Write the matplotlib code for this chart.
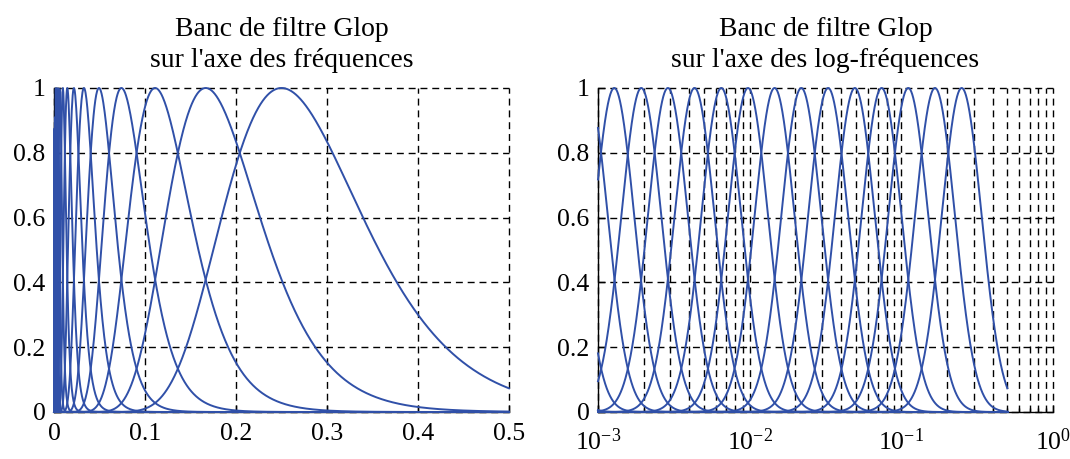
import numpy as np
import matplotlib
matplotlib.use("Agg")
import matplotlib.pyplot as plt
from matplotlib.ticker import LogLocator, NullFormatter

# ---- data ----
# centre frequencies of the Glop filters (ratio ~1.5 between neighbours)
centres = [0.25, 0.1667, 0.1111, 0.0741, 0.0494, 0.0329, 0.0219, 0.0146,
           0.00975, 0.0065, 0.00433, 0.00289, 0.00193, 0.00128, 0.000856,
           0.000571, 0.000381, 0.000254, 0.000169, 0.000113]
bandwidth = 0.303          # log-domain std of each filter (adjacent cross at ~0.8)
f_nyquist = 0.5
titles = ["Banc de filtre Glop\nsur l'axe des fréquences",
          "Banc de filtre Glop\nsur l'axe des log-fréquences"]
y_ticks = [0, 0.2, 0.4, 0.6, 0.8, 1]
y_ticklabels = ["0", "0.2", "0.4", "0.6", "0.8", "1"]
x_ticks_lin = [0, 0.1, 0.2, 0.3, 0.4, 0.5]
x_ticklabels_lin = ["0", "0.1", "0.2", "0.3", "0.4", "0.5"]

plt.rcParams['font.family'] = ['Liberation Serif', 'DejaVu Serif']
plt.rcParams['mathtext.fontset'] = 'custom'
plt.rcParams['mathtext.rm'] = 'Liberation Serif'
plt.rcParams['mathtext.it'] = 'Liberation Serif:italic'
plt.rcParams['mathtext.bf'] = 'Liberation Serif:bold'

BLUE = '#3050a8'
GRID = dict(color='k', linestyle=(0, (5, 3.5)), linewidth=1.0)
FS_TITLE = 20
FS_TICK = 18.5


def glop(f, fc):
    out = np.zeros_like(f)
    pos = f > 0
    out[pos] = np.exp(-np.log(f[pos] / fc) ** 2 / (2 * bandwidth ** 2))
    return out


fig = plt.figure(figsize=(10.7, 4.59), dpi=100)
b = 1 - 412 / 459
h = 324 / 459
ax1 = fig.add_axes([54 / 1070, b, 455 / 1070, h])
ax2 = fig.add_axes([598 / 1070, b, 455 / 1070, h])

f_lin = np.linspace(0, f_nyquist, 1025)
f_log = np.logspace(-3, np.log10(f_nyquist), 5000)

for fc in centres:
    ax1.plot(f_lin, glop(f_lin, fc), color=BLUE, lw=1.4, clip_on=False, zorder=3)
    ax2.plot(f_log, glop(f_log, fc), color=BLUE, lw=1.4, clip_on=False, zorder=3)

ax1.set_xlim(0, 0.5)
ax1.set_xticks(x_ticks_lin)
ax1.set_xticklabels(x_ticklabels_lin)
ax2.set_xscale('log')
ax2.set_xlim(1e-3, 1)
ax2.xaxis.set_major_locator(LogLocator(base=10, numticks=10))
ax2.xaxis.set_minor_locator(LogLocator(base=10, subs=np.arange(2, 10), numticks=20))
ax2.xaxis.set_minor_formatter(NullFormatter())

for ax, t in zip((ax1, ax2), titles):
    ax.set_ylim(0, 1)
    ax.set_yticks(y_ticks)
    ax.set_yticklabels(y_ticklabels)
    ax.set_title(t, fontsize=FS_TITLE, pad=15, linespacing=1.3)
    ax.grid(True, which='major', **GRID)
    ax.spines['top'].set_visible(False)
    ax.spines['right'].set_visible(False)
    for s in ('left', 'bottom'):
        ax.spines[s].set_linewidth(1.0)
        ax.spines[s].set_color('k')
    ax.tick_params(which='major', direction='in', length=5, width=1,
                   labelsize=FS_TICK, pad=6)
    ax.tick_params(which='minor', direction='in', length=3, width=1)

ax1.tick_params(axis='x', pad=8)
ax2.tick_params(axis='x', which='major', pad=12)
ax2.grid(True, which='minor', axis='x', **GRID)

fig.canvas.draw()
for ax in (ax1, ax2):
    for gl in (ax.get_xgridlines() + ax.get_ygridlines()
               + ax.xaxis.get_minorticklines()):
        gl.set_clip_on(False)
    for tk in ax.xaxis.get_minor_ticks() + ax.xaxis.get_major_ticks() \
            + ax.yaxis.get_major_ticks():
        tk.gridline.set_clip_on(False)

fig.savefig('out.png', dpi=100)
